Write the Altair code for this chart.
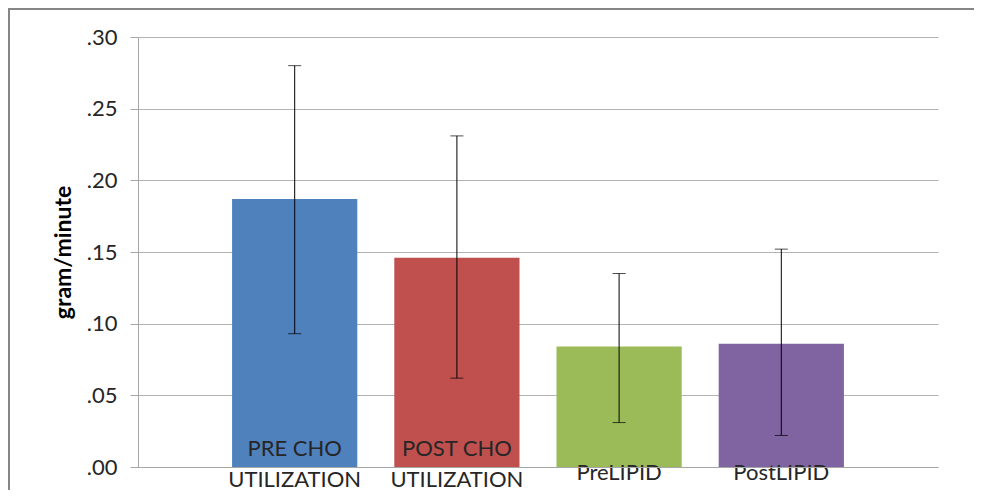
import altair as alt
import pandas as pd

categories = ["PRE CHO|UTILIZATION", "POST CHO|UTILIZATION", "PreLIPID", "PostLIPID"]
means = [0.187, 0.146, 0.084, 0.086]
err_low = [0.093, 0.062, 0.031, 0.022]
err_high = [0.280, 0.231, 0.135, 0.152]
colors = ["#4F81BD", "#C0504D", "#9BBB59", "#8064A2"]
y_ticks = [0, 0.05, 0.10, 0.15, 0.20, 0.25, 0.30]

df = pd.DataFrame({"cat": categories, "mean": means, "lo": err_low, "hi": err_high})

FONT = "Lato"
TXT = "#262626"
GRAY = "#a6a6a6"

x_enc = alt.X(
    "cat:N",
    sort=categories,
    scale=alt.Scale(paddingInner=0.228, paddingOuter=0.58),
    axis=alt.Axis(
        title=None,
        labelExpr="split(datum.label, '|')",
        labelAngle=0,
        ticks=False,
        tickSize=0,
        labelBaseline="middle",
        labelPadding={"condition": {"test": "indexof(datum.value, '|') >= 0", "value": -19}, "value": 5},
        labelLineHeight=31,
        labelFontSize=22,
        labelFont=FONT,
        labelColor=TXT,
        domainColor=GRAY,
        grid=False,
        labelLimit=0,
        zindex=1,
    ),
)

y_axis = alt.Axis(
    values=y_ticks,
    labelExpr="substring(format(datum.value, '.2f'), 1)",
    tickSize=8,
    tickColor=GRAY,
    labelPadding=13,
    labelFontSize=22,
    labelFont=FONT,
    labelColor=TXT,
    gridColor="#b3b3b3",
    domainColor=GRAY,
    title="gram/minute",
    titleFont=FONT,
    titleFontSize=23,
    titleFontWeight="bold",
    titleColor="#000000",
    titleX=-75,
    titleY=215,
    titleAngle=270,
    titleAlign="center",
    titleBaseline="middle",
)

base = alt.Chart(df)

bars = base.mark_bar().encode(
    x=x_enc,
    y=alt.Y("mean:Q", scale=alt.Scale(domain=[0, 0.3], nice=False), axis=y_axis),
    color=alt.Color("cat:N", scale=alt.Scale(domain=categories, range=colors), legend=None),
)

rules = base.mark_rule(color="black", strokeWidth=1).encode(
    x=alt.X("cat:N", sort=categories),
    y="lo:Q",
    y2="hi:Q",
)

cap_hi = base.mark_tick(color="black", size=13, thickness=1).encode(
    x=alt.X("cat:N", sort=categories), y="hi:Q"
)
cap_lo = base.mark_tick(color="black", size=13, thickness=1).encode(
    x=alt.X("cat:N", sort=categories), y="lo:Q"
)

frame = alt.Chart(pd.DataFrame({"k": [0]}))
border_top = frame.mark_rule(stroke="#868686", strokeWidth=2).encode(
    x=alt.value(-130), x2=alt.value(836), y=alt.value(-28)
)
border_left = frame.mark_rule(stroke="#868686", strokeWidth=2).encode(
    x=alt.value(-129), y=alt.value(-29), y2=alt.value(454)
)

chart = (
    alt.layer(border_top, border_left, bars, rules, cap_hi, cap_lo)
    .properties(
        width=800,
        height=430,
        autosize=alt.AutoSizeParams(type="none"),
        padding={"left": 130, "top": 29, "right": 36, "bottom": 23},
    )
    .configure_view(stroke=None)
)

chart.save("out.html", embed_options={"renderer": "svg", "actions": False})
